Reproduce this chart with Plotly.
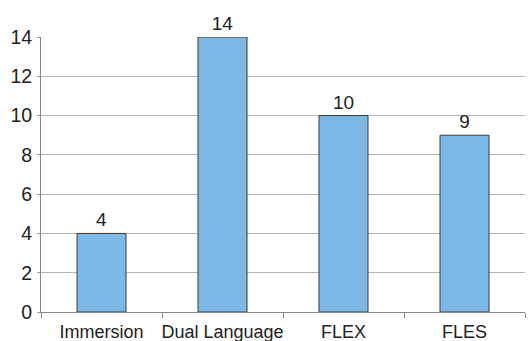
import plotly.graph_objects as go

# Program types and their counts
categories = ["Immersion", "Dual Language", "FLEX", "FLES"]
counts = [4, 14, 10, 9]
y_ticks = [0, 2, 4, 6, 8, 10, 12, 14]

fig = go.Figure(
    go.Bar(
        x=categories,
        y=counts,
        text=[str(v) for v in counts],
        textposition="outside",
        textfont=dict(size=19, color="#222222", family="Liberation Sans, Arial, sans-serif"),
        cliponaxis=False,
        marker=dict(color="#7db9e6", line=dict(color="#3a3a3a", width=1)),
        width=0.405,
    )
)

fig.update_layout(
    width=528,
    height=341,
    margin=dict(l=41, r=3, t=37, b=29),
    plot_bgcolor="white",
    paper_bgcolor="white",
    showlegend=False,
    font=dict(family="Liberation Sans, Arial, sans-serif", size=18, color="#222222"),
)

fig.update_xaxes(
    showgrid=False,
    tickson="boundaries",
    ticks="outside",
    ticklen=5,
    tickcolor="#888888",
    tickangle=0,
    ticklabelstandoff=3,
    showline=True,
    linecolor="#888888",
    linewidth=1,
    tickfont=dict(size=18),
    automargin=False,
)

fig.update_yaxes(
    range=[0, 14],
    tickvals=y_ticks,
    showgrid=True,
    gridcolor="#b4b4b4",
    gridwidth=1,
    showline=True,
    linecolor="#888888",
    linewidth=1,
    zeroline=False,
    ticks="outside",
    ticklen=3,
    tickcolor="#999999",
    ticklabelstandoff=1,
    tickfont=dict(size=19.5),
    automargin=False,
)

fig.write_html("out.html")
